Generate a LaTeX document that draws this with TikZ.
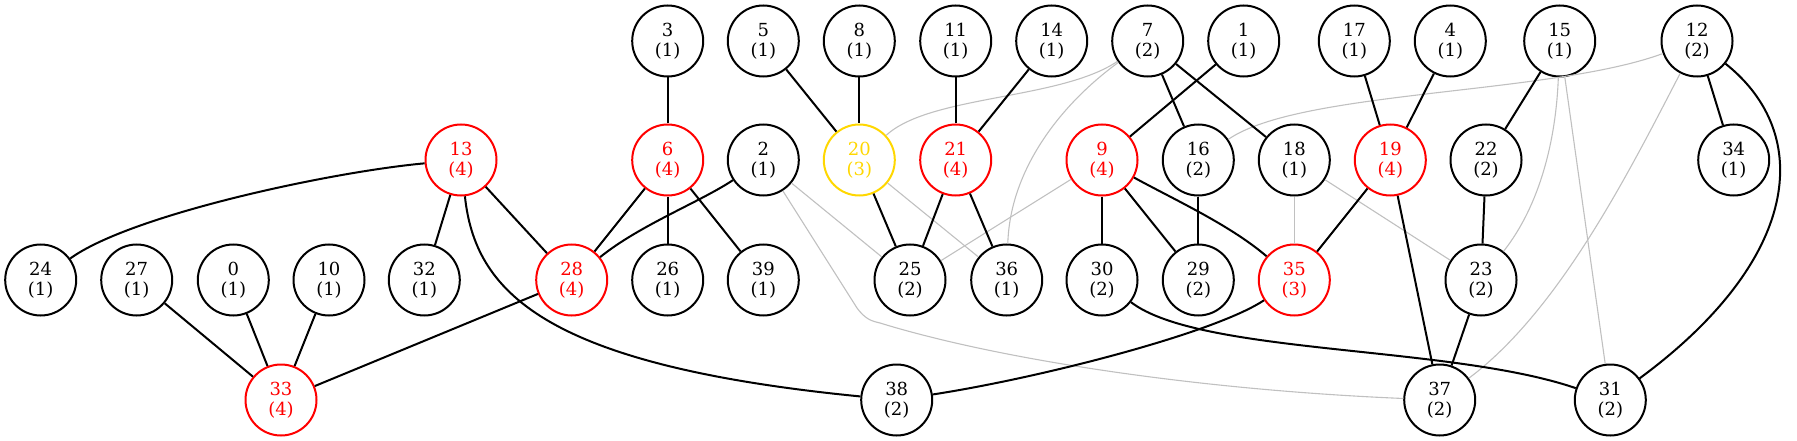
\documentclass[tikz,border=0pt]{standalone}
\usepackage{fontspec}
\setmainfont{DejaVu Serif}
\definecolor{gold}{RGB}{255,215,0}
\definecolor{lgrey}{RGB}{192,192,192}
\begin{document}
\begin{tikzpicture}[x=1pt,y=-1pt,
  nd/.style={circle,draw=black,line width=2pt,minimum size=71pt,inner sep=0pt,align=center,
    font=\fontsize{18}{20}\selectfont},
  rd/.style={nd,draw=red,text=red},
  yd/.style={nd,draw=gold,text=gold},
  blk/.style={draw=black,line width=2pt},
  gry/.style={draw=lgrey,line width=1.1pt}]
\useasboundingbox (0,0) rectangle (1797,441);
% top row
\node[nd] (n3) at (667.7,41) {3\\(1)};
\node[nd] (n5) at (763.3,41) {5\\(1)};
\node[nd] (n8) at (859.3,41) {8\\(1)};
\node[nd] (n11) at (955.7,41) {11\\(1)};
\node[nd] (n14) at (1051.7,41) {14\\(1)};
\node[nd] (n7) at (1147.7,41) {7\\(2)};
\node[nd] (n1) at (1243.7,41) {1\\(1)};
\node[nd] (n17) at (1354.3,41) {17\\(1)};
\node[nd] (n4) at (1450.3,41) {4\\(1)};
\node[nd] (n15) at (1559.7,41) {15\\(1)};
\node[nd] (n12) at (1697,41) {12\\(2)};
% second row
\node[rd] (n13) at (461,160) {13\\(4)};
\node[rd] (n6) at (667.7,160) {6\\(4)};
\node[nd] (n2) at (763.3,160) {2\\(1)};
\node[yd] (n20) at (859.3,160) {20\\(3)};
\node[rd] (n21) at (955.7,160) {21\\(4)};
\node[rd] (n9) at (1102,160) {9\\(4)};
\node[nd] (n16) at (1198.3,160) {16\\(2)};
\node[nd] (n18) at (1294.3,160) {18\\(1)};
\node[rd] (n19) at (1390.3,160) {19\\(4)};
\node[nd] (n22) at (1486,160) {22\\(2)};
\node[nd] (n34) at (1733.7,160) {34\\(1)};
% third row
\node[nd] (n24) at (40.7,280) {24\\(1)};
\node[nd] (n27) at (136.7,280) {27\\(1)};
\node[nd] (n0) at (233.3,280) {0\\(1)};
\node[nd] (n10) at (329,280) {10\\(1)};
\node[nd] (n32) at (424.3,280) {32\\(1)};
\node[rd] (n28) at (571.7,280) {28\\(4)};
\node[nd] (n26) at (667.7,280) {26\\(1)};
\node[nd] (n39) at (763.3,280) {39\\(1)};
\node[nd] (n25) at (910,280) {25\\(2)};
\node[nd] (n36) at (1006.7,280) {36\\(1)};
\node[nd] (n30) at (1102,280) {30\\(2)};
\node[nd] (n29) at (1198.3,280) {29\\(2)};
\node[rd] (n35) at (1294.3,280) {35\\(3)};
\node[nd] (n23) at (1481,280) {23\\(2)};
% bottom row
\node[rd] (n33) at (281,400) {33\\(4)};
\node[nd] (n38) at (896.7,400) {38\\(2)};
\node[nd] (n37) at (1439.7,400) {37\\(2)};
\node[nd] (n31) at (1610.3,400) {31\\(2)};
% grey edges
\draw[gry] (n7) .. controls (1060,100) and (930,95) .. (n20);
\draw[gry] (n7) .. controls (1060,105) and (1010,170) .. (n36);
\draw[gry] (n2) -- (n25);
\draw[gry] (n2) -- (857,308) .. controls (866,320) and (872,321) .. (880,323) .. controls (1000,360) and (1200,390) .. (n37);
\draw[gry] (n20) -- (n36);
\draw[gry] (n9) -- (n25);
\draw[gry] (n12) .. controls (1550,95) and (1300,90) .. (n16);
\draw[gry] (n18) -- (n35);
\draw[gry] (n18) -- (n23);
\draw[gry] (n15) .. controls (1556,140) and (1540,205) .. (n23);
\draw[gry] (n15) -- (n31);
\draw[gry] (n12) .. controls (1630,170) and (1560,310) .. (n37);
% black edges
\draw[blk] (n13) .. controls (330,172) and (130,215) .. (n24);
\draw[blk] (n13) -- (n32);
\draw[blk] (n13) -- (n28);
\draw[blk] (n13) .. controls (475,290) and (540,365) .. (n38);
\draw[blk] (n27) -- (n33);
\draw[blk] (n0) -- (n33);
\draw[blk] (n10) -- (n33);
\draw[blk] (n28) -- (n33);
\draw[blk] (n3) -- (n6);
\draw[blk] (n6) -- (n28);
\draw[blk] (n6) -- (n26);
\draw[blk] (n6) -- (n39);
\draw[blk] (n2) .. controls (700,202) and (640,225) .. (n28);
\draw[blk] (n5) -- (n20);
\draw[blk] (n8) -- (n20);
\draw[blk] (n20) -- (n25);
\draw[blk] (n11) -- (n21);
\draw[blk] (n14) -- (n21);
\draw[blk] (n21) -- (n25);
\draw[blk] (n21) -- (n36);
\draw[blk] (n1) -- (n9);
\draw[blk] (n7) -- (n16);
\draw[blk] (n7) -- (n18);
\draw[blk] (n9) -- (n30);
\draw[blk] (n9) -- (n29);
\draw[blk] (n9) .. controls (1175,200) and (1230,225) .. (n35);
\draw[blk] (n16) -- (n29);
\draw[blk] (n35) .. controls (1215,333) and (1040,378) .. (n38);
\draw[blk] (n30) .. controls (1200,355) and (1450,345) .. (n31);
\draw[blk] (n17) -- (n19);
\draw[blk] (n4) -- (n19);
\draw[blk] (n19) -- (n35);
\draw[blk] (n19) -- (n37);
\draw[blk] (n15) -- (n22);
\draw[blk] (n22) -- (n23);
\draw[blk] (n23) -- (n37);
\draw[blk] (n12) -- (n34);
\draw[blk] (n12) .. controls (1815,135) and (1800,260) .. (n31);
\end{tikzpicture}
\end{document}
